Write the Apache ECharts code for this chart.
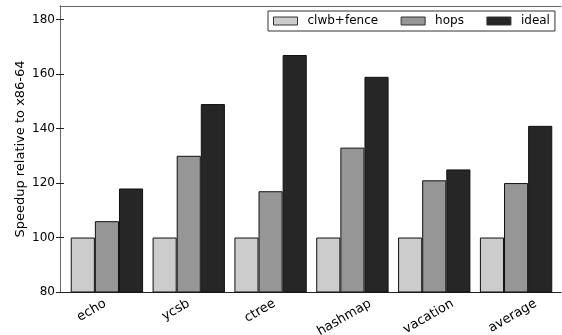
<!DOCTYPE html>
<html><head><meta charset="utf-8">
<script src="https://cdn.jsdelivr.net/npm/echarts@6/dist/echarts.min.js"></script>
<style>html,body{margin:0;padding:0;background:#fff}#c{width:562px;height:335px}</style>
</head><body><div id="c"></div>
<script>
const categories = ['echo', 'ycsb', 'ctree', 'hashmap', 'vacation', 'average'];
const clwbFence = [100, 100, 100, 100, 100, 100];
const hops = [106, 130, 117, 133, 121, 120];
const ideal = [118, 149, 167, 159, 125, 141];
const yTicks = [80, 100, 120, 140, 160, 180];

const FONT = 'DejaVu Sans';
const XFONT = 13;

const chart = echarts.init(document.getElementById('c'), null, {renderer: 'canvas'});
const barStyle = (c) => ({color: c, borderColor: '#111', borderWidth: 1});
chart.setOption({
  animation: false,
  backgroundColor: '#fff',
  textStyle: {fontFamily: FONT},
  legend: {
    left: 268, top: 11, padding: [4, 5, 4, 5],
    borderColor: '#333', borderWidth: 1,
    itemWidth: 24, itemHeight: 8, itemGap: 22.5,
    icon: 'rect',
    itemStyle: {borderColor: '#333', borderWidth: 1},
    textStyle: {fontFamily: FONT, fontSize: 12, color: '#000', padding: [0, 0, 0, 5]},
    data: ['clwb+fence', 'hops', 'ideal']
  },
  grid: [
    {left: 60, right: 1, top: 6, bottom: 43},
    {left: 66, right: 5, top: 6, bottom: 43},
    {left: 49.6, right: 7.2, top: 6, bottom: 43}
  ],
  xAxis: [
    {gridIndex: 0, type: 'value', min: 0, max: 1, position: 'bottom',
     axisLine: {show: true, lineStyle: {color: '#222', width: 1}}, axisTick: {show: false},
     axisLabel: {show: false}, splitLine: {show: false}},
    {gridIndex: 0, type: 'value', min: 0, max: 1, position: 'top',
     axisLine: {show: true, lineStyle: {color: '#666', width: 1}}, axisTick: {show: false},
     axisLabel: {show: false}, splitLine: {show: false}},
    {gridIndex: 1, type: 'category', data: categories, position: 'bottom',
     axisLine: {show: false}, axisTick: {show: false}, splitLine: {show: false},
     axisLabel: {show: false}},
    // tick positions of the category labels (matplotlib centres each rotated label on its tick)
    {gridIndex: 2, type: 'category', data: categories, position: 'bottom',
     axisLine: {show: false}, axisTick: {show: false}, splitLine: {show: false},
     axisLabel: {show: false}}
  ],
  yAxis: [
    {gridIndex: 0, type: 'value', min: 80, max: 185, interval: 20, position: 'left',
     name: 'Speedup relative to x86-64', nameLocation: 'middle', nameGap: 33,
     nameMoveOverlap: false,
     nameTextStyle: {fontFamily: FONT, fontSize: 13, color: '#000'},
     axisLine: {show: true, lineStyle: {color: '#444', width: 1}},
     axisTick: {show: true, inside: true, length: 4, customValues: yTicks, lineStyle: {color: '#222'}},
     axisLabel: {customValues: yTicks, fontFamily: FONT, fontSize: 12, color: '#000', margin: 5},
     splitLine: {show: false}},
    {gridIndex: 0, type: 'value', min: 80, max: 185, interval: 20, position: 'right',
     axisLine: {show: true, lineStyle: {color: '#666', width: 1}},
     axisTick: {show: true, inside: true, length: 4, customValues: yTicks, lineStyle: {color: '#222'}},
     axisLabel: {show: false}, splitLine: {show: false}},
    {gridIndex: 1, type: 'value', min: 80, max: 185, show: false},
    {gridIndex: 2, type: 'value', min: 80, max: 185, show: false}
  ],
  series: [
    {name: 'clwb+fence', type: 'bar', xAxisIndex: 2, yAxisIndex: 2, data: clwbFence,
     barGap: '0%', barCategoryGap: '11.6%', itemStyle: barStyle('#cccccc')},
    {name: 'hops', type: 'bar', xAxisIndex: 2, yAxisIndex: 2, data: hops,
     barGap: '0%', barCategoryGap: '11.6%', itemStyle: barStyle('#969696')},
    {name: 'ideal', type: 'bar', xAxisIndex: 2, yAxisIndex: 2, data: ideal,
     barGap: '0%', barCategoryGap: '11.6%', itemStyle: barStyle('#262626')}
  ]
});

// rotated category labels: bounding box centred on the tick, top hanging 5px below the axis
const ctx = document.createElement('canvas').getContext('2d');
ctx.font = XFONT + 'px "' + FONT + '"';
const axisY = chart.convertToPixel({yAxisIndex: 3}, 80);
const ang = Math.PI / 6;
chart.setOption({
  graphic: categories.map((c) => {
    const L = ctx.measureText(c).width;
    const H = L * Math.sin(ang) + XFONT * Math.cos(ang);
    return {
      type: 'text',
      x: chart.convertToPixel({xAxisIndex: 3}, c),
      y: axisY + 5 + H / 2,
      rotation: ang,
      style: {text: c, font: XFONT + 'px "' + FONT + '"', fill: '#000',
              align: 'center', verticalAlign: 'middle'}
    };
  })
});
</script></body></html>
